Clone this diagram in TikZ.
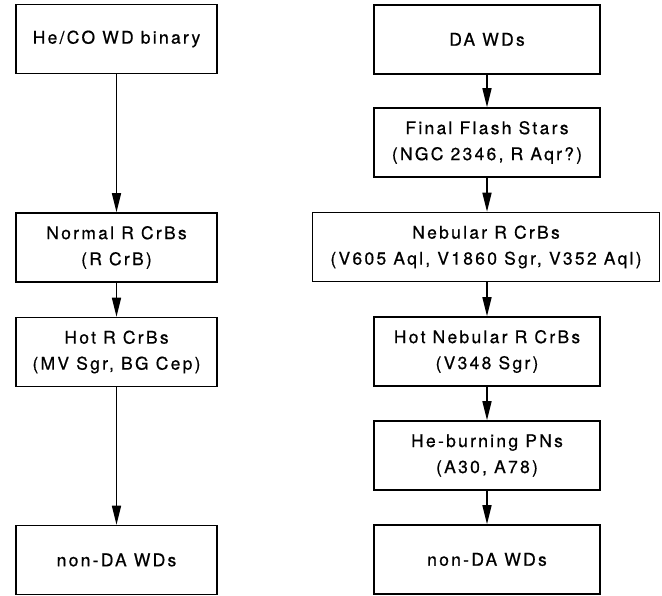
\documentclass[tikz,border=0pt]{standalone}
\usepackage{fontspec}
\newfontfamily\heros[LetterSpace=13,FakeBold=0.6]{TeX Gyre Heros}
\usetikzlibrary{arrows.meta}
\begin{document}
\begin{tikzpicture}[x=1pt,y=-1pt,
  box/.style={draw=black, line width=1.6pt, align=center, inner sep=0pt,
    minimum height=69pt, font=\heros\fontsize{17.5}{26}\selectfont},
  lbox/.style={box, minimum width=201pt},
  rbox/.style={box, minimum width=226pt},
  wbox/.style={box, minimum width=347pt},
  arr/.style={line width=1.6pt, -{Triangle[length=19pt,width=9pt]}}]
\useasboundingbox (0,0) rectangle (662,596);
% left column
\node[lbox] (l1) at (116.5,39) {He/CO WD binary};
\node[lbox] (l2) at (116.5,247.5) {Normal R CrBs\\(R CrB)};
\node[lbox] (l3) at (116.5,352) {Hot R CrBs\\(MV Sgr, BG Cep)};
\node[lbox] (l4) at (116.5,560) {non-DA WDs};
% right column
\node[rbox] (r1) at (487,39.5) {DA WDs};
\node[rbox] (r2) at (487,142.5) {Final Flash Stars\\(NGC 2346, R Aqr?)};
\node[wbox] (r3) at (486,247) {Nebular R CrBs\\(V605 Aql, V1860 Sgr, V352 Aql)};
\node[rbox] (r4) at (487,351.5) {Hot Nebular R CrBs\\(V348 Sgr)};
\node[rbox] (r5) at (487,455.5) {He-burning PNs\\(A30, A78)};
\node[rbox] (r6) at (487,559.5) {non-DA WDs};
\draw[arr] (l1) -- (l2);
\draw[arr] (l2) -- (l3);
\draw[arr] (l3) -- (l4);
\draw[arr] (r1) -- (r2);
\draw[arr] (r2) -- (r3.north -| r2.south);
\draw[arr] (r3.south -| r4.north) -- (r4);
\draw[arr] (r4) -- (r5);
\draw[arr] (r5) -- (r6);
\end{tikzpicture}
\end{document}
